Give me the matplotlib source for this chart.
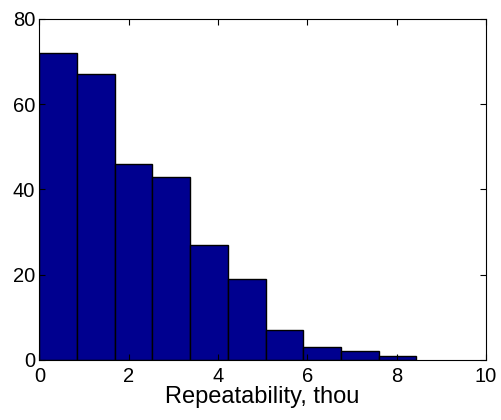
import numpy as np
import matplotlib
matplotlib.use("Agg")
import matplotlib.pyplot as plt

# histogram counts (10 bins from 0 to ~8.44)
counts = [72, 67, 46, 43, 27, 19, 7, 3, 2, 1]
bin_lo = 0.0
bin_hi = 8.44
x_ticks = [0, 2, 4, 6, 8, 10]
y_ticks = [0, 20, 40, 60, 80]
x_label = "Repeatability, thou"

plt.rcParams['font.family'] = ['Liberation Sans', 'DejaVu Sans']

fig = plt.figure(figsize=(5.01, 4.2), dpi=100)
ax = fig.add_axes([0.0785, 0.1429, 0.8915, 0.8119])

edges = np.linspace(bin_lo, bin_hi, len(counts) + 1)
ax.bar(edges[:-1], counts, width=np.diff(edges), align='edge',
       color=(0, 0, 0.5625), edgecolor='black', linewidth=1.0)

ax.set_xlim(0, 10)
ax.set_ylim(0, 80)
ax.set_xticks(x_ticks)
ax.set_yticks(y_ticks)
ax.tick_params(direction='in', length=4.5, width=0.8, top=True, right=True,
               labelsize=14.5, colors='black')
ax.tick_params(axis='x', pad=5)
ax.tick_params(axis='y', pad=3)
for s in ax.spines.values():
    s.set_linewidth(0.8)
ax.set_xlabel(x_label, fontsize=17, labelpad=0)

fig.savefig("out.png", dpi=100)
